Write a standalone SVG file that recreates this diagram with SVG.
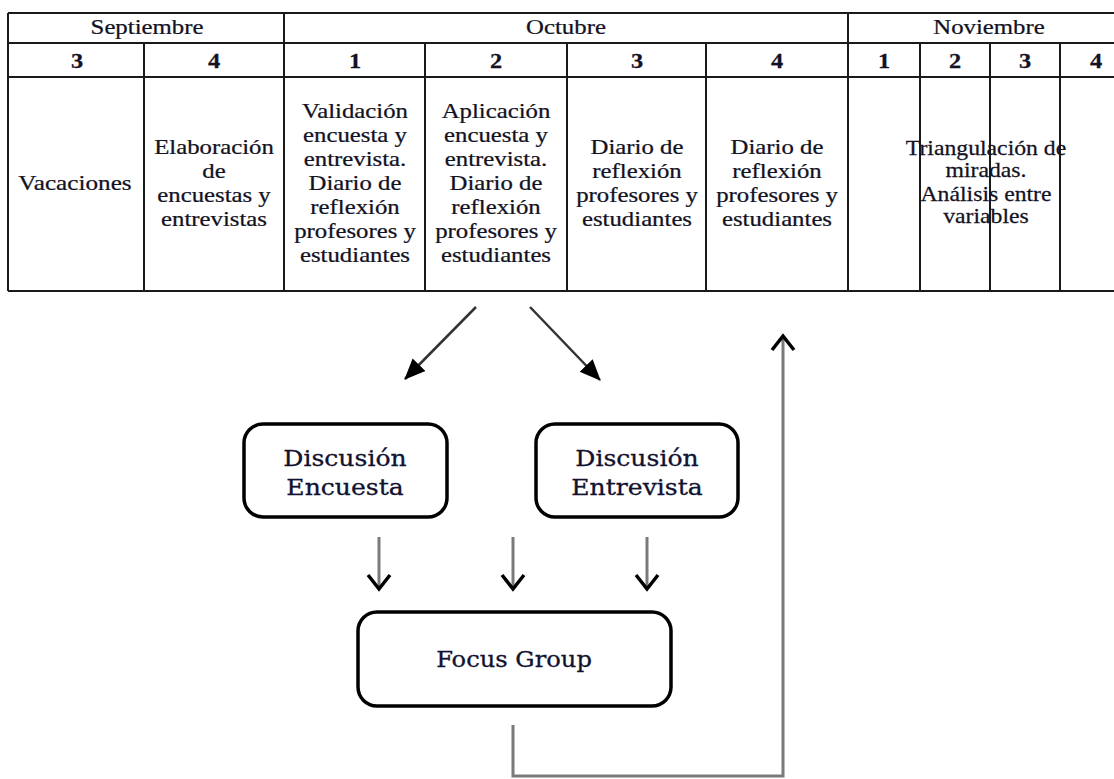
<svg xmlns="http://www.w3.org/2000/svg" width="1114" height="779" viewBox="0 0 1114 779">
<style>
.bg{fill:#ffffff}
.grid{stroke:#1a1a1a;stroke-width:2;fill:none}
.tt{font-family:"Liberation Serif","Times New Roman",serif;font-size:21px;fill:#121224;stroke:#121224;stroke-width:0.25;text-anchor:middle}
.num{font-weight:bold}
.box{fill:#ffffff;stroke:#000000;stroke-width:3.5}
.bt{font-family:"DejaVu Serif",Cambria,serif;font-size:22px;fill:#121230;stroke:#121230;stroke-width:0.3;text-anchor:middle}
.diag{stroke:#333333;stroke-width:2.5;fill:none}
.gshaft{stroke:#7a7a7a;stroke-width:3;fill:none}
</style>
<defs>
<marker id="tri" markerUnits="userSpaceOnUse" viewBox="0 0 22 20" markerWidth="22" markerHeight="20" refX="20" refY="10" orient="auto">
<path d="M0,1 L21,10 L0,19 z" fill="#000000"/>
</marker>
<marker id="chev" markerUnits="userSpaceOnUse" viewBox="-3 -3 22 28" markerWidth="22" markerHeight="28" refX="14" refY="11" orient="auto">
<path d="M0,0 L14,11 L0,22" fill="none" stroke="#000000" stroke-width="3.5"/>
</marker>
</defs>
<rect class="bg" x="0" y="0" width="1114" height="779"/>

<g id="table">
<path class="grid" d="M8,13 H1114 M8,43 H1114 M8,77 H1114 M8,291 H1114 M8,13 V291 M284,13 V291 M848,13 V291 M144,43 V291 M425,43 V291 M567,43 V291 M706,43 V291 M920,43 V291 M990,43 V291 M1060,43 V291"/>
<text class="tt" transform="translate(147 0) scale(1.18 1)"><tspan x="0" y="34">Septiembre</tspan></text>
<text class="tt" transform="translate(566 0) scale(1.18 1)"><tspan x="0" y="34">Octubre</tspan></text>
<text class="tt" transform="translate(989 0) scale(1.18 1)"><tspan x="0" y="34">Noviembre</tspan></text>
<g class="tt num">
<text transform="translate(77 0) scale(1.16 1)"><tspan x="0" y="68">3</tspan></text>
<text transform="translate(214 0) scale(1.16 1)"><tspan x="0" y="68">4</tspan></text>
<text transform="translate(355 0) scale(1.16 1)"><tspan x="0" y="68">1</tspan></text>
<text transform="translate(496 0) scale(1.16 1)"><tspan x="0" y="68">2</tspan></text>
<text transform="translate(637 0) scale(1.16 1)"><tspan x="0" y="68">3</tspan></text>
<text transform="translate(777 0) scale(1.16 1)"><tspan x="0" y="68">4</tspan></text>
<text transform="translate(884 0) scale(1.16 1)"><tspan x="0" y="68">1</tspan></text>
<text transform="translate(955 0) scale(1.16 1)"><tspan x="0" y="68">2</tspan></text>
<text transform="translate(1025 0) scale(1.16 1)"><tspan x="0" y="68">3</tspan></text>
<text transform="translate(1096 0) scale(1.16 1)"><tspan x="0" y="68">4</tspan></text>
</g>
<text class="tt" transform="translate(75 0) scale(1.2 1)"><tspan x="0" y="190">Vacaciones</tspan></text>
<text class="tt" transform="translate(214 0) scale(1.18 1)"><tspan x="0" y="154">Elaboración</tspan><tspan x="0" y="178">de</tspan><tspan x="0" y="202">encuestas y</tspan><tspan x="0" y="226">entrevistas</tspan></text>
<text class="tt" transform="translate(355 0) scale(1.18 1)"><tspan x="0" y="118">Validación</tspan><tspan x="0" y="142">encuesta y</tspan><tspan x="0" y="166">entrevista.</tspan><tspan x="0" y="190">Diario de</tspan><tspan x="0" y="214">reflexión</tspan><tspan x="0" y="238">profesores y</tspan><tspan x="0" y="262">estudiantes</tspan></text>
<text class="tt" transform="translate(496 0) scale(1.18 1)"><tspan x="0" y="118">Aplicación</tspan><tspan x="0" y="142">encuesta y</tspan><tspan x="0" y="166">entrevista.</tspan><tspan x="0" y="190">Diario de</tspan><tspan x="0" y="214">reflexión</tspan><tspan x="0" y="238">profesores y</tspan><tspan x="0" y="262">estudiantes</tspan></text>
<text class="tt" transform="translate(637 0) scale(1.18 1)"><tspan x="0" y="154">Diario de</tspan><tspan x="0" y="178">reflexión</tspan><tspan x="0" y="202">profesores y</tspan><tspan x="0" y="226">estudiantes</tspan></text>
<text class="tt" transform="translate(777 0) scale(1.18 1)"><tspan x="0" y="154">Diario de</tspan><tspan x="0" y="178">reflexión</tspan><tspan x="0" y="202">profesores y</tspan><tspan x="0" y="226">estudiantes</tspan></text>
<text class="tt" transform="translate(986 0) scale(1.13 1)"><tspan x="0" y="155">Triangulación de</tspan><tspan x="0" y="177">miradas.</tspan><tspan x="0" y="201">Análisis entre</tspan><tspan x="0" y="223">variables</tspan></text>
</g>

<g id="connectors">
<line class="diag" x1="476" y1="307" x2="405" y2="379" marker-end="url(#tri)"/>
<line class="diag" x1="530" y1="307" x2="600" y2="380" marker-end="url(#tri)"/>
<line class="gshaft" x1="379" y1="537" x2="379" y2="589" marker-end="url(#chev)"/>
<line class="gshaft" x1="513" y1="537" x2="513" y2="589" marker-end="url(#chev)"/>
<line class="gshaft" x1="647" y1="537" x2="647" y2="589" marker-end="url(#chev)"/>
<path class="gshaft" d="M513,725 V776 H783 V336" marker-end="url(#chev)"/>
</g>

<g id="node-discusion-encuesta">
<rect class="box" x="244" y="424" width="203" height="93" rx="19" ry="19"/>
<text class="bt" transform="translate(345 0) scale(1.14 1)"><tspan x="0" y="466">Discusión</tspan><tspan x="0" y="495">Encuesta</tspan></text>
</g>
<g id="node-discusion-entrevista">
<rect class="box" x="536" y="424" width="202" height="93" rx="19" ry="19"/>
<text class="bt" transform="translate(637 0) scale(1.14 1)"><tspan x="0" y="466">Discusión</tspan><tspan x="0" y="495">Entrevista</tspan></text>
</g>
<g id="node-focus-group">
<rect class="box" x="358" y="612" width="313" height="94" rx="19" ry="19"/>
<text class="bt" transform="translate(514 0) scale(1.1 1)"><tspan x="0" y="667">Focus Group</tspan></text>
</g>
</svg>
